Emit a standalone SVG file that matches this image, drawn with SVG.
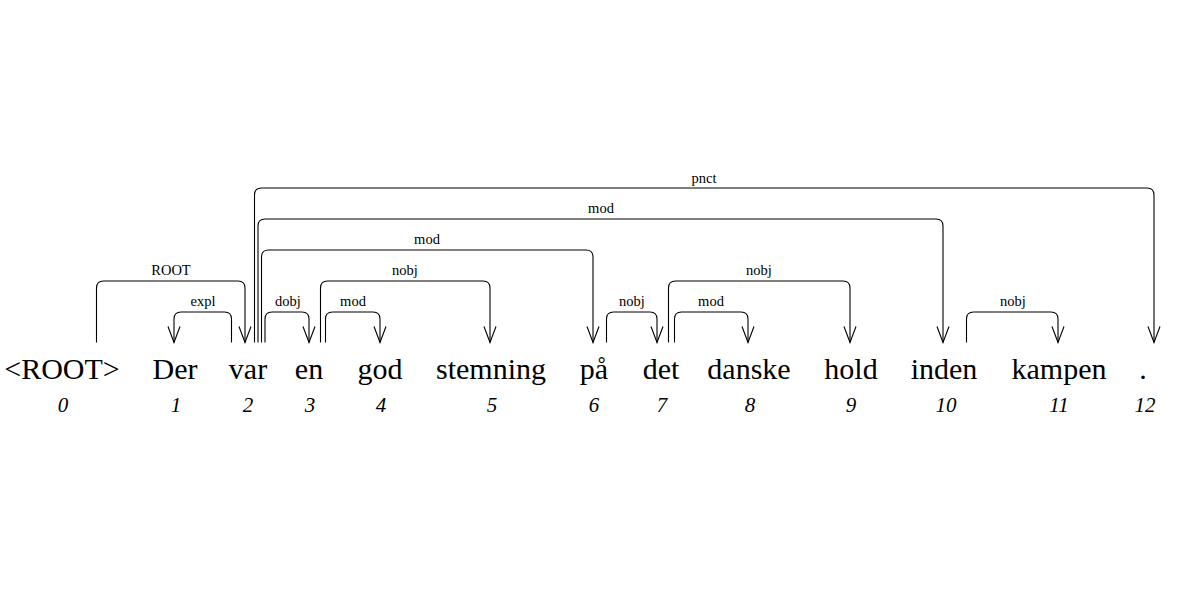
<svg xmlns="http://www.w3.org/2000/svg" width="1198" height="591" viewBox="0 0 1198 591">
<style>
.w{font-family:"Liberation Serif",serif;font-size:30px;text-anchor:middle;fill:#000}
.n{font-family:"Liberation Serif",serif;font-size:21px;font-style:italic;text-anchor:middle;fill:#000}
.l{font-family:"Liberation Serif",serif;font-size:14.5px;text-anchor:middle;fill:#000}
.a{fill:none;stroke:#000;stroke-width:1.1;marker-end:url(#arr)}
</style>
<defs>
<marker id="arr" viewBox="-17 -7 18 14" refX="0" refY="0" markerWidth="18" markerHeight="14" markerUnits="userSpaceOnUse" orient="auto">
<path d="M-16,-6 L0,0 L-16,6" fill="none" stroke="#000" stroke-width="1.1"/>
</marker>
</defs>
<rect width="1198" height="591" fill="#fff"/>
<g id="tokens">
<g id="t0"><text class="w" x="62" y="379">&lt;ROOT&gt;</text><text class="n" x="63" y="412">0</text></g>
<g id="t1"><text class="w" x="175" y="379">Der</text><text class="n" x="176" y="412">1</text></g>
<g id="t2"><text class="w" x="248" y="379">var</text><text class="n" x="248" y="412">2</text></g>
<g id="t3"><text class="w" x="309" y="379">en</text><text class="n" x="310" y="412">3</text></g>
<g id="t4"><text class="w" x="380" y="379">god</text><text class="n" x="381" y="412">4</text></g>
<g id="t5"><text class="w" x="491" y="379">stemning</text><text class="n" x="492" y="412">5</text></g>
<g id="t6"><text class="w" x="594" y="379">på</text><text class="n" x="594" y="412">6</text></g>
<g id="t7"><text class="w" x="661" y="379">det</text><text class="n" x="662" y="412">7</text></g>
<g id="t8"><text class="w" x="749" y="379">danske</text><text class="n" x="750" y="412">8</text></g>
<g id="t9"><text class="w" x="851" y="379">hold</text><text class="n" x="851" y="412">9</text></g>
<g id="t10"><text class="w" x="944" y="379">inden</text><text class="n" x="946" y="412">10</text></g>
<g id="t11"><text class="w" x="1059" y="379">kampen</text><text class="n" x="1059" y="412">11</text></g>
<g id="t12"><text class="w" x="1143" y="379">.</text><text class="n" x="1145" y="412">12</text></g>
</g>
<g id="connectors">
<path class="a" d="M96.5,342.5 V288 Q96.5,281 103.5,281 H238 Q245,281 245,288 V342.5"/>
<text class="l" x="171" y="275">ROOT</text>
<path class="a" d="M231.5,342.5 V319 Q231.5,312 224.5,312 H181 Q174,312 174,319 V342.5"/>
<text class="l" x="203" y="306">expl</text>
<path class="a" d="M265,342.5 V319 Q265,312 272,312 H302 Q309,312 309,319 V342.5"/>
<text class="l" x="288" y="306">dobj</text>
<path class="a" d="M325.5,342.5 V319 Q325.5,312 332.5,312 H373 Q380,312 380,319 V342.5"/>
<text class="l" x="353" y="306">mod</text>
<path class="a" d="M320.5,342.5 V288 Q320.5,281 327.5,281 H483 Q490,281 490,288 V342.5"/>
<text class="l" x="405" y="275">nobj</text>
<path class="a" d="M261.5,342.5 V257 Q261.5,250 268.5,250 H586 Q593,250 593,257 V342.5"/>
<text class="l" x="427" y="244">mod</text>
<path class="a" d="M258,342.5 V226 Q258,219 265,219 H936 Q943,219 943,226 V342.5"/>
<text class="l" x="601" y="213">mod</text>
<path class="a" d="M254.5,342.5 V195 Q254.5,188 261.5,188 H1147 Q1154,188 1154,195 V342.5"/>
<text class="l" x="704" y="183">pnct</text>
<path class="a" d="M606.5,342.5 V319 Q606.5,312 613.5,312 H650 Q657,312 657,319 V342.5"/>
<text class="l" x="632" y="306">nobj</text>
<path class="a" d="M668.5,342.5 V288 Q668.5,281 675.5,281 H843 Q850,281 850,288 V342.5"/>
<text class="l" x="759" y="275">nobj</text>
<path class="a" d="M674.5,342.5 V319 Q674.5,312 681.5,312 H741 Q748,312 748,319 V342.5"/>
<text class="l" x="711" y="306">mod</text>
<path class="a" d="M966.5,342.5 V319 Q966.5,312 973.5,312 H1051 Q1058,312 1058,319 V342.5"/>
<text class="l" x="1013" y="306">nobj</text>
</g>
</svg>
